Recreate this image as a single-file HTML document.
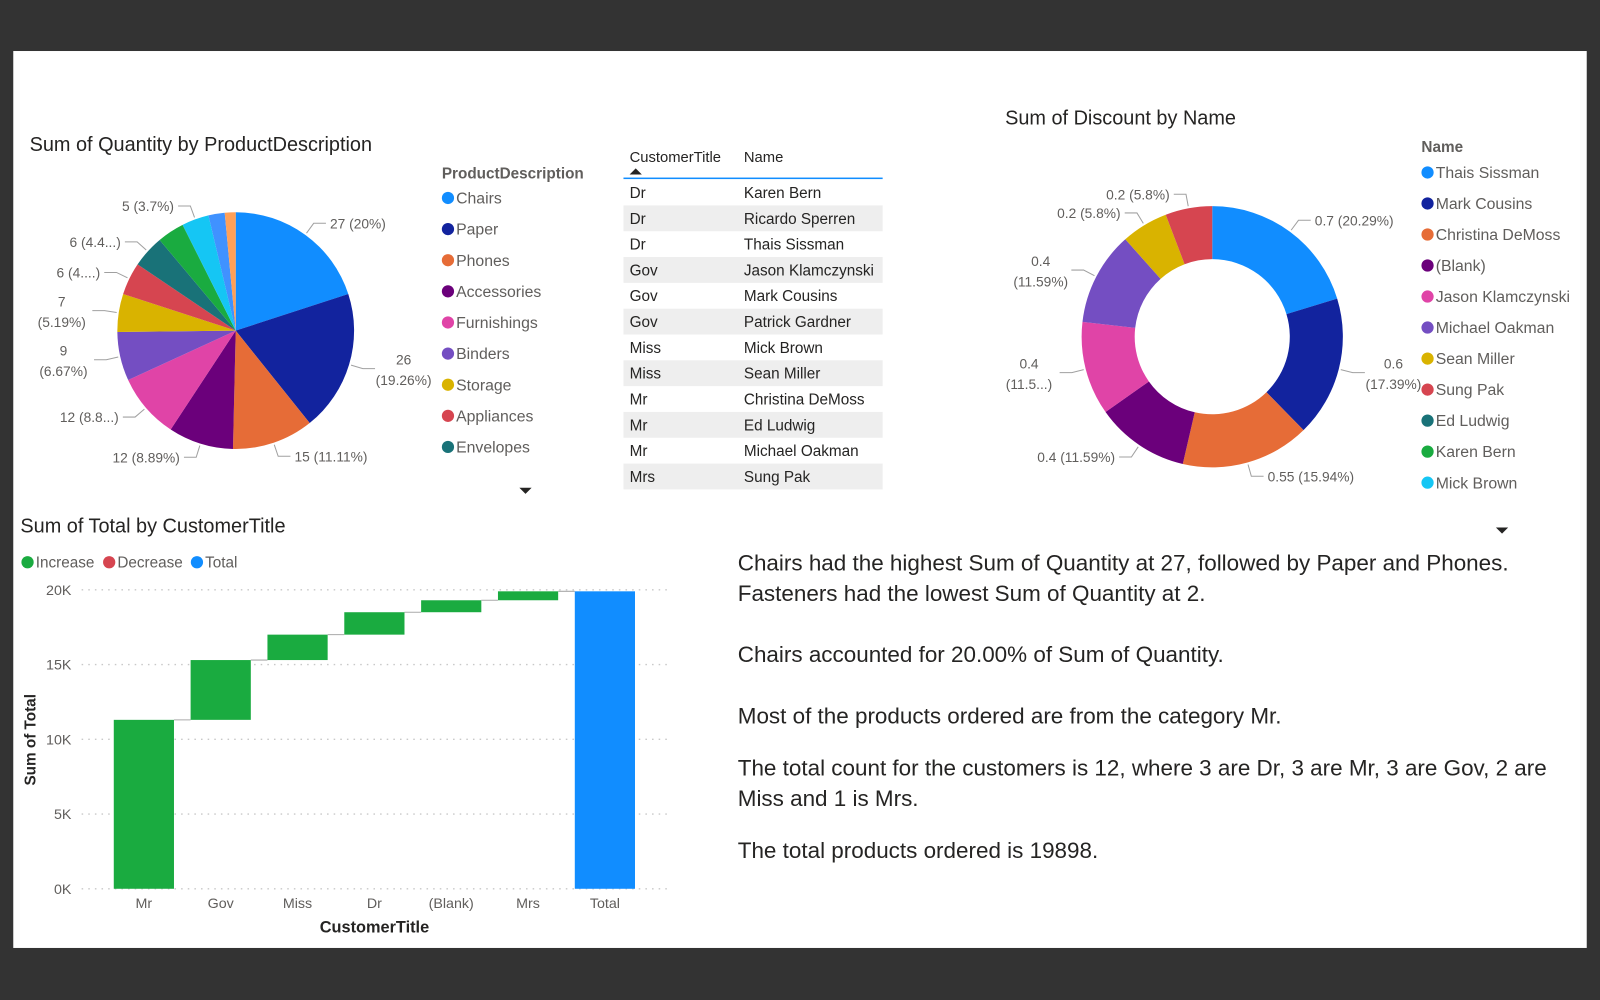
<!DOCTYPE html>
<html><head><meta charset="utf-8"><title>Dashboard</title>
<style>
html,body{margin:0;padding:0;background:#333;}
svg{display:block;font-family:"Liberation Sans",sans-serif;}
</style></head>
<body>
<svg id="root" width="1600" height="1000" viewBox="0 0 1568 980">
<rect x="0" y="0" width="1568" height="980" fill="#333"/>
<rect x="13" y="50" width="1542" height="879" fill="#fff"/>

<text x="29" y="148" font-size="19.5" fill="#252423">Sum of Quantity by ProductDescription</text>
<text x="433" y="175" font-size="15" font-weight="bold" fill="#605e5c">ProductDescription</text>
<g id="pie"></g>
<g id="pieLegend"></g>
<path d="M509 478 L521 478 L515 484 Z" fill="#252423"/>

<g id="table"></g>

<text x="985" y="122" font-size="19.5" fill="#252423">Sum of Discount by Name</text>
<text x="1393" y="149" font-size="15" font-weight="bold" fill="#605e5c">Name</text>
<g id="donut"></g>
<g id="donutLegend"></g>
<path d="M1466 517 L1478 517 L1472 523 Z" fill="#252423"/>

<text x="20" y="522" font-size="19.5" fill="#252423">Sum of Total by CustomerTitle</text>
<g>
<circle cx="27" cy="551" r="6" fill="#1AAB40"/>
<text x="35" y="556" font-size="15" fill="#605e5c">Increase</text>
<circle cx="107" cy="551" r="6" fill="#D64550"/>
<text x="115" y="556" font-size="15" fill="#605e5c">Decrease</text>
<circle cx="193" cy="551" r="6" fill="#118DFF"/>
<text x="201" y="556" font-size="15" fill="#605e5c">Total</text>
</g>
<g id="wf"></g>
<text transform="translate(35,725) rotate(-90)" text-anchor="middle" font-size="15" font-weight="bold" fill="#252423">Sum of Total</text>
<text x="367" y="914" text-anchor="middle" font-size="16" font-weight="bold" fill="#252423">CustomerTitle</text>

<g font-size="22" fill="#252423">
<text x="723" y="559">Chairs had the highest Sum of Quantity at 27, followed by Paper and Phones.</text>
<text x="723" y="589">Fasteners had the lowest Sum of Quantity at 2.</text>
<text x="723" y="649">Chairs accounted for 20.00% of Sum of Quantity.</text>
<text x="723" y="709">Most of the products ordered are from the category Mr.</text>
<text x="723" y="760">The total count for the customers is 12, where 3 are Dr, 3 are Mr, 3 are Gov, 2 are</text>
<text x="723" y="790">Miss and 1 is Mrs.</text>
<text x="723" y="841">The total products ordered is 19898.</text>
</g>
</svg>
<script>
const NS="http://www.w3.org/2000/svg";
function mk(tag,attrs,parent,txt){const e=document.createElementNS(NS,tag);for(const k in attrs)e.setAttribute(k,attrs[k]);if(txt!==undefined)e.textContent=txt;parent.appendChild(e);return e;}

// ---- pie data ----
const pieCategories=["Chairs","Paper","Phones","Accessories","Furnishings","Binders","Storage","Appliances","Envelopes","Art","Labels","Supplies","Fasteners"];
const pieValues=[27,26,15,12,12,9,7,6,6,5,5,3,2];
const pieLabels=["27 (20%)","26|(19.26%)","15 (11.11%)","12 (8.89%)","12 (8.8...)","9|(6.67%)","7|(5.19%)","6 (4....)","6 (4.4...)","","5 (3.7%)","",""];
const pieColors=["#118DFF","#12239E","#E66C37","#6B007B","#E044A7","#744EC2","#D9B300","#D64550","#197278","#1AAB40","#15C6F4","#4092FF","#FFA058"];

// ---- donut data ----
const donutNames=["Thais Sissman","Mark Cousins","Christina DeMoss","(Blank)","Jason Klamczynski","Michael Oakman","Sean Miller","Sung Pak"];
const donutValues=[0.7,0.6,0.55,0.4,0.4,0.4,0.2,0.2];
const donutLabels=["0.7 (20.29%)","0.6|(17.39%)","0.55 (15.94%)","0.4 (11.59%)","0.4|(11.5...)","0.4|(11.59%)","0.2 (5.8%)","0.2 (5.8%)"];
const donutLegendNames=["Thais Sissman","Mark Cousins","Christina DeMoss","(Blank)","Jason Klamczynski","Michael Oakman","Sean Miller","Sung Pak","Ed Ludwig","Karen Bern","Mick Brown"];
const donutColors=["#118DFF","#12239E","#E66C37","#6B007B","#E044A7","#744EC2","#D9B300","#D64550","#197278","#1AAB40","#15C6F4"];

// ---- waterfall data ----
const wfCategories=["Mr","Gov","Miss","Dr","(Blank)","Mrs"];
const wfValues=[11300,4000,1700,1500,800,598];
const wfTicks=[0,5000,10000,15000,20000];
const wfTickLabels=["0K","5K","10K","15K","20K"];

// ---- table data ----
const tableTitles=["Dr","Dr","Dr","Gov","Gov","Gov","Miss","Miss","Mr","Mr","Mr","Mrs"];
const tableNames=["Karen Bern","Ricardo Sperren","Thais Sissman","Jason Klamczynski","Mark Cousins","Patrick Gardner","Mick Brown","Sean Miller","Christina DeMoss","Ed Ludwig","Michael Oakman","Sung Pak"];

function arcPath(cx,cy,r0,r1,a0,a1){
  const p=(r,a)=>[cx+r*Math.sin(a),cy-r*Math.cos(a)];
  const large=(a1-a0)>Math.PI?1:0;
  const [x1,y1]=p(r1,a0),[x2,y2]=p(r1,a1);
  if(r0===0)return `M${cx},${cy} L${x1},${y1} A${r1},${r1} 0 ${large} 1 ${x2},${y2} Z`;
  const [x3,y3]=p(r0,a1),[x4,y4]=p(r0,a0);
  return `M${x1},${y1} A${r1},${r1} 0 ${large} 1 ${x2},${y2} L${x3},${y3} A${r0},${r0} 0 ${large} 0 ${x4},${y4} Z`;
}
function drawRing(g,cx,cy,r0,r1,vals,cols,labels,prefix){
  const tot=vals.reduce((a,b)=>a+b,0);let a=0;
  vals.forEach((v,i)=>{
    const a1=a+v/tot*2*Math.PI;
    const s=mk('path',{d:arcPath(cx,cy,r0,r1,a,a1),fill:cols[i]},g);
    
    
    if(labels[i]){
      const m=(a+a1)/2,sx=Math.sin(m),sy=-Math.cos(m);
      const ex=cx+(r1+14)*sx,ey=cy+(r1+14)*sy,right=sx>=0;
      const hx=ex+(right?12:-12);
      const ln=mk('polyline',{points:`${cx+(r1+2)*sx},${cy+(r1+2)*sy} ${ex},${ey} ${hx},${ey}`,fill:'none',stroke:'#a0a0a0','stroke-width':1},g);
      
      
      const parts=labels[i].split('|');
      const anchor=parts.length>1?'middle':(right?'start':'end');
      const tx=parts.length>1?hx+(right?28:-30):hx+(right?4:-4);
      parts.forEach((p,k)=>{
        const y=parts.length>1?ey-4+k*20:ey+5;
        const t=mk('text',{x:tx,y:y,'font-size':13.5,fill:'#605e5c','text-anchor':anchor},g,p);
        
        
      });
    }
    a=a1;
  });
}
drawRing(document.getElementById('pie'),231,324,0,116,pieValues,pieColors,pieLabels,'pie');
const dg=document.getElementById('donut');
drawRing(dg,1188,330,76,128,donutValues,donutColors,donutLabels,'donut');

function legend(g,x,y0,step,names,cols,prefix){
  names.forEach((n,i)=>{
    const y=y0+i*step;
    const c=mk('circle',{cx:x,cy:y,r:6,fill:cols[i]},g);
    
    
    const t=mk('text',{x:x+8,y:y+5.5,'font-size':15.5,fill:'#605e5c'},g,n);
    
    
  });
}
legend(document.getElementById('pieLegend'),439,194,30.5,pieCategories.slice(0,9),pieColors,'pie-legend');
legend(document.getElementById('donutLegend'),1399,169,30.4,donutLegendNames,donutColors,'donut-legend');

// table
const tg=document.getElementById('table');
let h=mk('text',{x:617,y:159,'font-size':14.5,fill:'#252423'},tg,'CustomerTitle');

h=mk('text',{x:729,y:159,'font-size':14.5,fill:'#252423'},tg,'Name');

h=mk('path',{d:'M617 171 L623 165 L629 171 Z',fill:'#252423'},tg);

h=mk('rect',{x:611,y:174,width:254,height:1.5,fill:'#118DFF'},tg);

tableNames.forEach((n,i)=>{
  const y=176+i*25.3;
  if(i%2===1){const r=mk('rect',{x:611,y:y,width:254,height:25.3,fill:'#eeeeee'},tg);
    }
  let t=mk('text',{x:617,y:y+18,'font-size':15,fill:'#252423'},tg,tableTitles[i]);
  
  t=mk('text',{x:729,y:y+18,'font-size':15,fill:'#252423'},tg,n);
  
});

// waterfall
const wg=document.getElementById('wf');
const X0=80,X1=655,Y0=871,PPY=(871-578)/20000;
const ys=v=>Y0-v*PPY;
const step=75.3,bw=59;
const xc=i=>141+step*i;
wfTicks.forEach((t,i)=>{
  const l=mk('line',{x1:X0,x2:X1,y1:ys(t),y2:ys(t),stroke:'#c8c8c8','stroke-dasharray':'1.5 5','stroke-width':1.3},wg);
  
  const tx=mk('text',{x:70,y:ys(t)+5,'text-anchor':'end','font-size':14,fill:'#605e5c'},wg,wfTickLabels[i]);
  
});
let cum=0;
wfCategories.forEach((c,i)=>{
  const nv=cum+wfValues[i];
  const top=ys(Math.max(cum,nv)),bot=ys(Math.min(cum,nv));
  const r=mk('rect',{x:xc(i)-bw/2,y:top,width:bw,height:bot-top,fill:wfValues[i]>=0?'#1AAB40':'#D64550'},wg);
  
  const cl=mk('line',{x1:xc(i)+bw/2,x2:xc(i+1)-bw/2,y1:ys(nv),y2:ys(nv),stroke:'#aaa','stroke-width':1},wg);
  
  const t=mk('text',{x:xc(i),y:890,'text-anchor':'middle','font-size':14,fill:'#605e5c'},wg,c);
  
  cum=nv;
});
const ti=wfCategories.length;
const tb=mk('rect',{x:xc(ti)-bw/2,y:ys(cum),width:bw,height:Y0-ys(cum),fill:'#118DFF'},wg);

const tt=mk('text',{x:xc(ti),y:890,'text-anchor':'middle','font-size':14,fill:'#605e5c'},wg,'Total');

</script>
</body></html>
